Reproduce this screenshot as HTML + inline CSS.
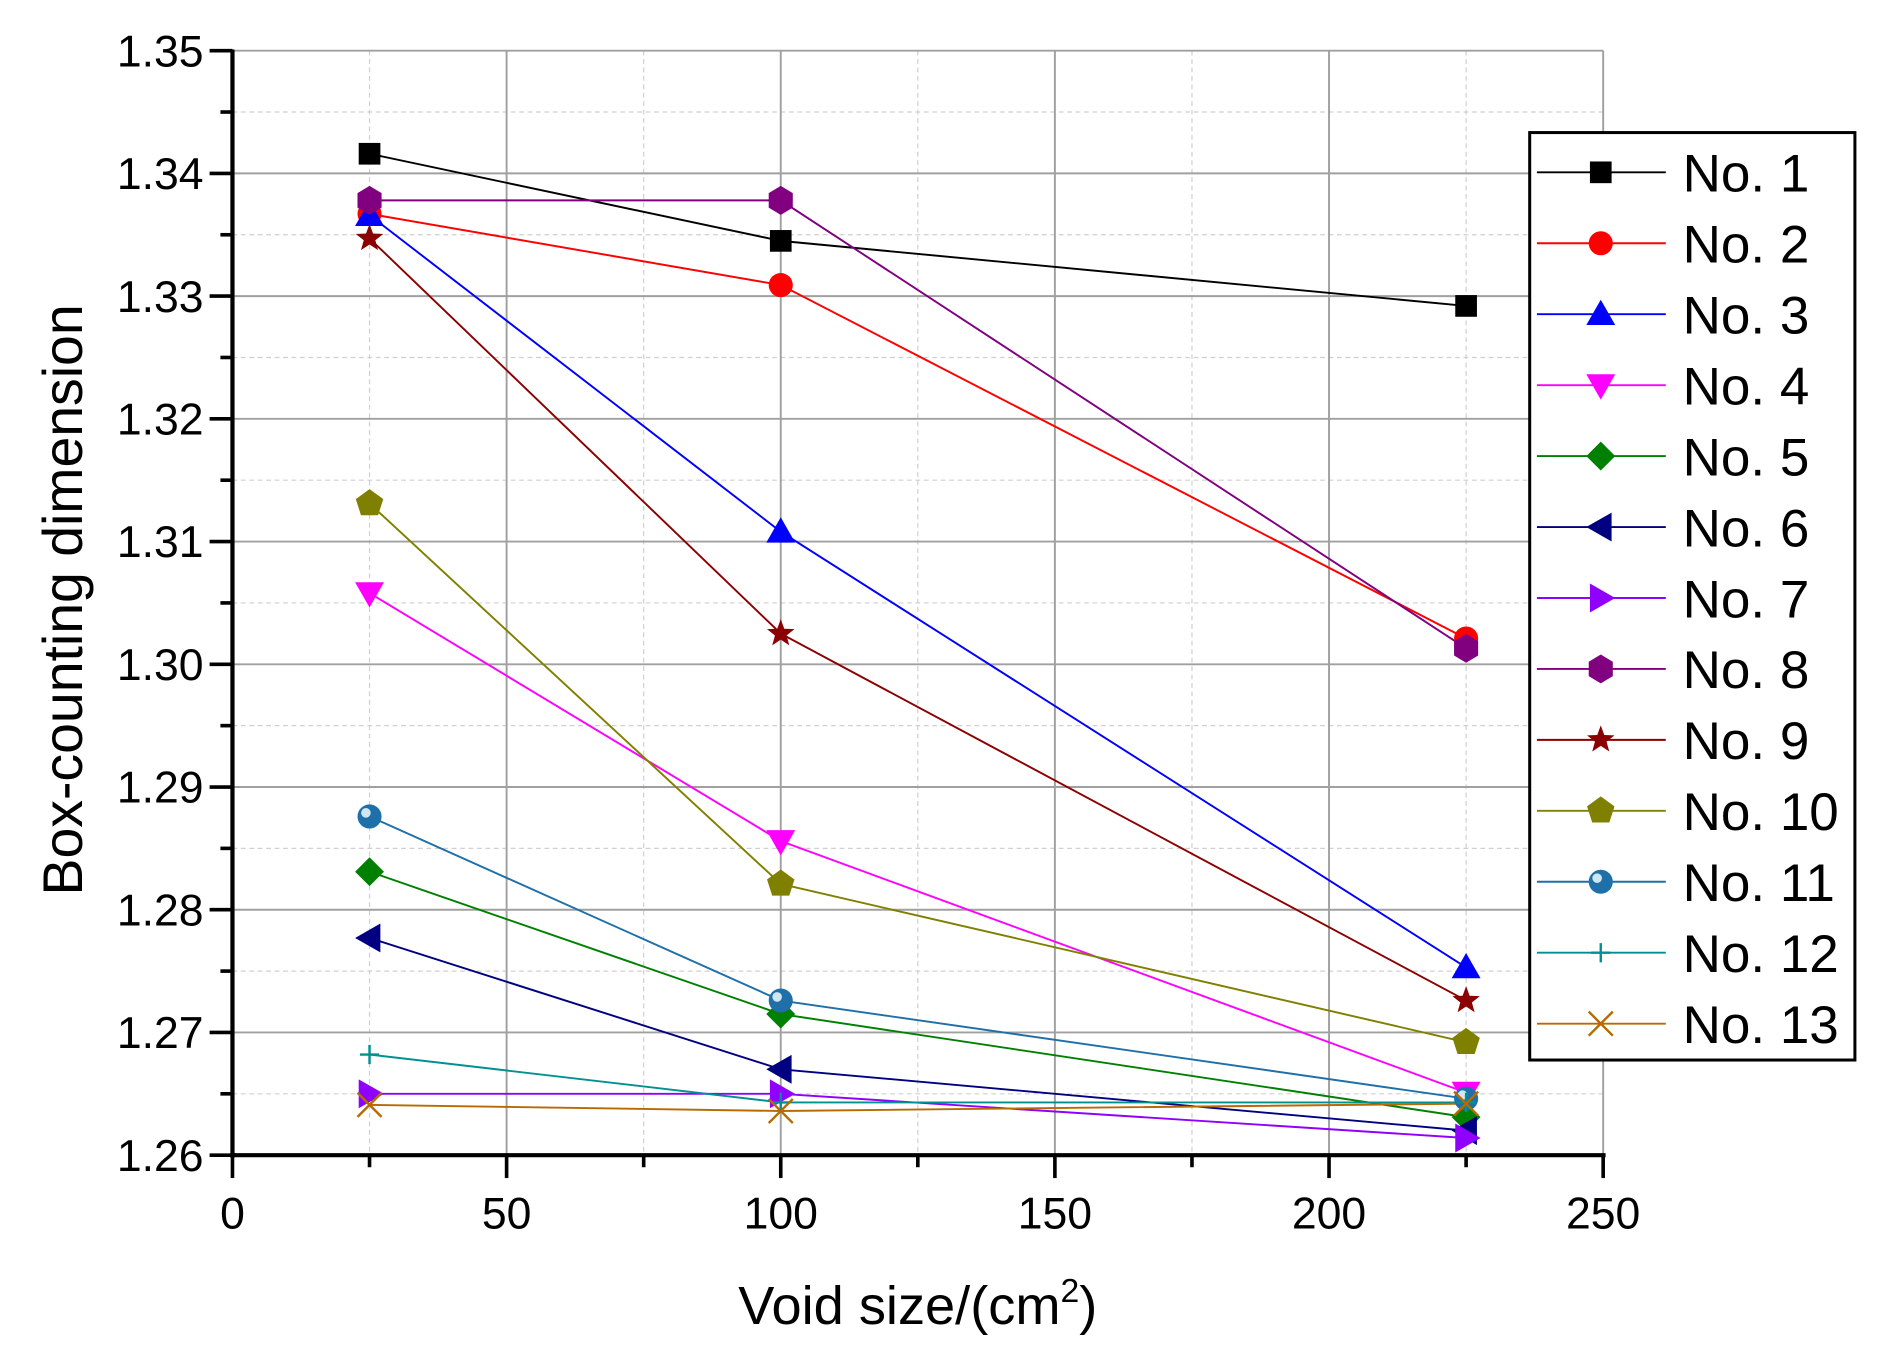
<!DOCTYPE html>
<html><head><meta charset="utf-8"><style>
html,body{margin:0;padding:0;background:#fff}
svg{display:block}
text{font-family:"Liberation Sans",Arial,sans-serif;fill:#000}
</style></head><body>
<svg id="s" width="1879" height="1354" viewBox="0 0 1560 1124" xmlns="http://www.w3.org/2000/svg"></svg>
<script>
const s=document.getElementById('s');
const X0=193,X1=1331,Y0=959,Y1=42;
const fx=v=>X0+(v/250)*(X1-X0);
const fy=v=>Y0-(v-1.26)/0.09*(Y0-Y1);
let h='';
for(let v=25;v<250;v+=50)h+=`<line x1="${fx(v)}" y1="${Y1}" x2="${fx(v)}" y2="${Y0}" stroke="#d0d0d0" stroke-width="1" stroke-dasharray="4,3"/>`;
for(let i=1;i<18;i+=2){const y=fy(1.26+i*0.005);h+=`<line x1="${X0}" y1="${y}" x2="${X1}" y2="${y}" stroke="#d0d0d0" stroke-width="1" stroke-dasharray="4,3"/>`;}
for(let v=50;v<=250;v+=50)h+=`<line x1="${fx(v)}" y1="${Y1}" x2="${fx(v)}" y2="${Y0}" stroke="#a0a0a0" stroke-width="1.6"/>`;
for(let i=1;i<=9;i++){const y=fy(1.26+i*0.01);h+=`<line x1="${X0}" y1="${y}" x2="${X1}" y2="${y}" stroke="#a0a0a0" stroke-width="1.6"/>`;}
h+=`<line x1="${X0}" y1="${Y1-1}" x2="${X0}" y2="${Y0+2}" stroke="#000" stroke-width="3.5"/>`;
h+=`<line x1="${X0-2}" y1="${Y0}" x2="${X1+2}" y2="${Y0}" stroke="#000" stroke-width="3.5"/>`;
for(let i=0;i<=18;i++){const y=fy(1.26+i*0.005);const L=i%2?10:19;h+=`<line x1="${X0-L}" y1="${y}" x2="${X0}" y2="${y}" stroke="#000" stroke-width="3"/>`;
 if(i%2==0)h+=`<text x="${X0-24}" y="${y+13}" font-size="37" text-anchor="end">${(1.26+i*0.005).toFixed(2)}</text>`;}
for(let v=0;v<=250;v+=25){const x=fx(v);const L=v%50?10:19;h+=`<line x1="${x}" y1="${Y0}" x2="${x}" y2="${Y0+L}" stroke="#000" stroke-width="3"/>`;
 if(v%50==0)h+=`<text x="${x}" y="${Y0+61}" font-size="37" text-anchor="middle">${v}</text>`;}
h+=`<text transform="translate(68,498) rotate(-90)" font-size="46" text-anchor="middle">Box-counting dimension</text>`;
h+=`<text x="762" y="1099" font-size="45" text-anchor="middle">Void size/(cm<tspan font-size="28" dy="-18">2</tspan><tspan dy="18">)</tspan></text>`;
const S=[
['#000','sq',[1.3416,1.3345,1.3292]],
['#ff0000','ci',[1.3367,1.3309,1.3021]],
['#0000ff','tu',[1.3366,1.3108,1.2753]],
['#ff00ff','td',[1.3058,1.2856,1.2651]],
['#008000','di',[1.2831,1.2715,1.2631]],
['#000080','tl',[1.2777,1.2670,1.2620]],
['#9000ff','tr',[1.2650,1.2650,1.2614]],
['#800080','hx',[1.3378,1.3378,1.3013]],
['#8b0000','st',[1.3347,1.3025,1.2726]],
['#808000','pe',[1.3131,1.2821,1.2692]],
['#1f6fa8','sp',[1.2876,1.2726,1.2646]],
['#009090','pl',[1.2682,1.2643,1.2643]],
['#b86a00','x',[1.2641,1.2636,1.2642]]];
function mk(t,c,x,y){
 switch(t){
 case'sq':return `<rect x="${x-9}" y="${y-9}" width="18" height="18" fill="${c}"/>`;
 case'ci':return `<circle cx="${x}" cy="${y}" r="10" fill="${c}"/>`;
 case'tu':return `<polygon points="${x},${y-12} ${x+12},${y+9} ${x-12},${y+9}" fill="${c}"/>`;
 case'td':return `<polygon points="${x},${y+12} ${x+12},${y-9} ${x-12},${y-9}" fill="${c}"/>`;
 case'tl':return `<polygon points="${x-12},${y} ${x+9},${y-12} ${x+9},${y+12}" fill="${c}"/>`;
 case'tr':return `<polygon points="${x+12},${y} ${x-9},${y-12} ${x-9},${y+12}" fill="${c}"/>`;
 case'di':return `<polygon points="${x},${y-12} ${x+12},${y} ${x},${y+12} ${x-12},${y}" fill="${c}"/>`;
 case'hx':return `<polygon points="${x},${y-12} ${x+10},${y-6} ${x+10},${y+6} ${x},${y+12} ${x-10},${y+6} ${x-10},${y-6}" fill="${c}"/>`;
 case'pe':{let p=[];for(let k=0;k<5;k++){const a=-Math.PI/2+k*2*Math.PI/5;p.push((x+12*Math.cos(a)).toFixed(1)+','+(y+12*Math.sin(a)).toFixed(1));}return `<polygon points="${p.join(' ')}" fill="${c}"/>`;}
 case'st':{let p=[];for(let k=0;k<10;k++){const a=-Math.PI/2+k*Math.PI/5;const R=k%2?5:12;p.push((x+R*Math.cos(a)).toFixed(1)+','+(y+R*Math.sin(a)).toFixed(1));}return `<polygon points="${p.join(' ')}" fill="${c}"/>`;}
 case'sp':return `<circle cx="${x}" cy="${y}" r="10" fill="${c}"/><circle cx="${x-3}" cy="${y-3}" r="4" fill="#cfe6f5"/>`;
 case'pl':return `<path d="M${x-8},${y}H${x+8}M${x},${y-8}V${y+8}" stroke="${c}" stroke-width="2"/>`;
 case'x':return `<path d="M${x-10},${y-10}L${x+10},${y+10}M${x+10},${y-10}L${x-10},${y+10}" stroke="${c}" stroke-width="2"/>`;
 }}
const xs=[25,100,225];
S.forEach(([c,t,d])=>{h+=`<polyline points="${xs.map((v,i)=>fx(v)+','+fy(d[i])).join(' ')}" fill="none" stroke="${c}" stroke-width="1.6"/>`;});
S.forEach(([c,t,d])=>{xs.forEach((v,i)=>h+=mk(t,c,fx(v),fy(d[i])));});
h+=`<rect x="1270" y="110" width="270" height="770" fill="#fff" stroke="#000" stroke-width="2.5"/>`;
S.forEach(([c,t],i)=>{const y=143+i*58.9;
 h+=`<line x1="1276" y1="${y}" x2="1383" y2="${y}" stroke="${c}" stroke-width="1.6"/>`+mk(t,c,1329,y)+
 `<text x="1397" y="${y+16}" font-size="44">No. ${i+1}</text>`;});
s.innerHTML=h;
</script>
</body></html>
